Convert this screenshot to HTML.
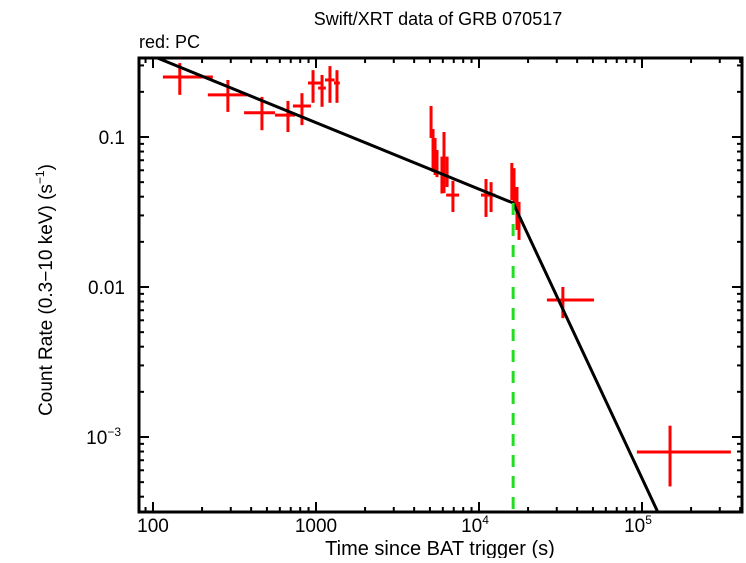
<!DOCTYPE html>
<html><head><meta charset="utf-8"><style>
body{margin:0;background:#fff;}
svg text{font-family:"Liberation Sans",Arial,sans-serif;}
</style></head><body>
<svg id="c" width="746" height="558"></svg>
<script>
const times=[146,288,466,673,820,959,1089,1218,1345,5080,5225,5375,5525,5925,6100,6370,6920,11040,11860,15900,16400,17100,17600,32700,148600];
const timeLo=[115,217,362,560,722,893,1031,1135,1290,4990,5130,5280,5430,5830,6000,6270,6290,10280,11500,15600,16100,16800,17300,26100,93000];
const timeHi=[233,378,560,743,931,1104,1150,1300,1400,5170,5320,5470,5620,6020,6200,6470,7550,12030,12600,16200,16700,17400,17900,50800,351000];
const rates=[0.251,0.191,0.145,0.140,0.161,0.229,0.212,0.240,0.229,0.128,0.0858,0.0782,0.0603,0.065,0.0858,0.065,0.041,0.041,0.041,0.0525,0.0443,0.0352,0.0316,0.00819,0.000794];
const rateLo=[0.191,0.147,0.111,0.108,0.120,0.169,0.159,0.169,0.169,0.0985,0.0585,0.0558,0.054,0.042,0.0423,0.0464,0.0316,0.0293,0.0316,0.038,0.0326,0.024,0.0206,0.0062,0.000468];
const rateHi=[0.311,0.240,0.185,0.174,0.196,0.279,0.259,0.297,0.279,0.161,0.113,0.0985,0.0819,0.074,0.108,0.074,0.051,0.0525,0.050,0.0671,0.062,0.0464,0.0369,0.01,0.00119];
const modelT=[106,16200,125000];
const modelR=[0.337,0.0363,0.000316];
const breakT=16200;
const xTicks=[100,1000,10000,100000];
const xTickLabels=["100","1000","10^4","10^5"];
const yTicks=[0.1,0.01,0.001];
const yTickLabels=["0.1","0.01","10^-3"];

const L=139,R=742,T=58,B=512;
const X=t=>153+163*(Math.log10(t)-2);
const Y=r=>137-150*(Math.log10(r)+1);
const svg=document.getElementById('c');
const NS='http://www.w3.org/2000/svg';
function mk(tag,at,parent){const e=document.createElementNS(NS,tag);for(const k in at)e.setAttribute(k,at[k]);(parent||svg).appendChild(e);return e;}

const cp=mk('clipPath',{id:'cp'});mk('rect',{x:L,y:T,width:R-L,height:B-T},cp);

const dg=mk('g',{'clip-path':'url(#cp)',stroke:'#f00','stroke-width':3});


for(let i=0;i<times.length;i++){
  const h=mk('line',{x1:X(timeLo[i]),x2:X(timeHi[i]),y1:Y(rates[i]),y2:Y(rates[i])},dg);
  
  
  const v=mk('line',{x1:X(times[i]),x2:X(times[i]),y1:Y(rateLo[i]),y2:Y(rateHi[i])},dg);
  
  
}
const m=mk('polyline',{points:modelT.map((t,i)=>X(t)+','+Y(modelR[i])).join(' '),fill:'none',stroke:'#000','stroke-width':3,'clip-path':'url(#cp)'});


let br=0;for(let i=0;i<modelT.length;i++)if(modelT[i]===breakT)br=modelR[i];
const bl=mk('line',{x1:X(breakT),x2:X(breakT),y1:Y(br),y2:B,stroke:'#2d2','stroke-width':3,'stroke-dasharray':'12,9'});



const fr=mk('rect',{x:L,y:T,width:R-L,height:B-T,fill:'none',stroke:'#000','stroke-width':3});


const tg=mk('g',{stroke:'#000','stroke-width':2});
for(let d=1;d<=5;d++)for(let k=1;k<10;k++){
  const t=k*Math.pow(10,d);const x=X(t);if(x<L||x>R)continue;const len=k===1?10:5;
  mk('line',{x1:x,x2:x,y1:B,y2:B-len},tg);mk('line',{x1:x,x2:x,y1:T,y2:T+len},tg);
}
for(let d=-4;d<=0;d++)for(let k=1;k<10;k++){
  const r=k*Math.pow(10,d);const y=Y(r);if(y<T||y>B)continue;const len=k===1?10:5;
  mk('line',{x1:L,x2:L+len,y1:y,y2:y},tg);mk('line',{x1:R,x2:R-len,y1:y,y2:y},tg);
}
function lab(txt,x,y,anchor,name){
  const t=mk('text',{x:x,y:y,'font-size':19,'text-anchor':anchor});
  const p=txt.split('^');t.textContent=p[0];
  if(p[1]){const s=mk('tspan',{'font-size':12,dy:-8},t);s.textContent=p[1].replace('-','\u2212');}
  
  
}
xTicks.forEach((v,i)=>lab(xTickLabels[i],X(v)+(xTickLabels[i].includes('^')?-4:0),532,'middle','x-tick-label'));
yTicks.forEach((v,i)=>lab(yTickLabels[i],L-14-(yTickLabels[i].includes('^')?4:0),Y(v)+7,'end','y-tick-label'));
</script>
<svg width="746" height="558" style="position:absolute;left:0;top:0">
<text x="438" y="25" font-size="18" text-anchor="middle">Swift/XRT data of GRB 070517</text>
<text x="139" y="48" font-size="18">red: PC</text>
<text x="440" y="555" font-size="20" text-anchor="middle">Time since BAT trigger (s)</text>
<text transform="translate(52,290) rotate(-90)" font-size="19" text-anchor="middle">Count Rate (0.3−10 keV) (s<tspan font-size="12" dy="-8">−1</tspan><tspan dy="8">)</tspan></text>
</svg>
</body></html>
